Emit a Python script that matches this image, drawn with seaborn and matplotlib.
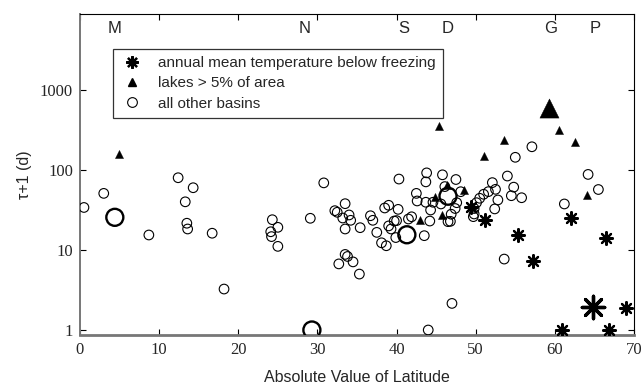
import matplotlib
matplotlib.use("Agg")
import matplotlib.pyplot as plt
import seaborn as sns
import pandas as pd
from matplotlib.lines import Line2D
from matplotlib.transforms import blended_transform_factory

# ---- data (absolute latitude, tau+1 in days) ----
other_lat = [0.5, 3.0, 8.7, 12.4, 14.3, 13.3, 13.5, 13.6, 16.7, 18.2, 24.3, 24.1, 24.2, 25.0, 25.0,
             29.1, 30.8, 33.5, 32.2, 32.5, 33.2, 34.0, 34.2, 33.5, 35.4, 36.7, 37.0, 37.5, 38.1,
             38.7, 38.5, 39.0, 39.0, 39.3, 39.7, 40.0, 39.9, 40.2, 40.3, 33.5, 33.8, 32.7, 34.5,
             35.3, 41.5, 41.9, 42.5, 42.6, 43.7, 43.8, 43.7, 44.3, 44.2, 43.5, 44.6, 45.6, 45.8,
             47.5, 46.1, 48.1, 47.6, 47.4, 46.9, 46.8, 46.5, 51.6, 51.0, 50.5, 50.1, 49.8, 49.8,
             49.7, 52.1, 52.5, 52.8, 52.4, 54.0, 54.8, 54.5, 55.8, 55.0, 57.1, 53.6, 47.0, 44.0,
             61.2, 64.2, 65.5]
other_tau = [34, 51, 15.4, 80, 60, 40, 21.6, 18.3, 16.2, 3.25, 23.9, 16.9, 14.7, 19.2, 11.1,
             24.9, 69, 37.9, 31, 29.6, 25.1, 27.4, 23.5, 18.3, 19, 26.8, 23.5, 16.6, 12.3,
             11.3, 33.5, 36.2, 20, 18.3, 23, 23.3, 14.3, 32.2, 77, 8.8, 8.3, 6.7, 7.1,
             5.0, 24.4, 26, 51, 41, 39.5, 92, 71, 31.6, 23, 15.1, 39.5, 37.6, 87,
             76, 62, 53.5, 39, 33, 28, 22.8, 22.6, 53.6, 49.7, 44.3, 39, 33, 28.2,
             26.1, 69.5, 57.3, 42.2, 32.6, 84, 61, 47.7, 45, 144, 195, 7.7, 2.15, 1.0,
             37.6, 88, 57]
lake_lat = [4.9, 45.3, 43.0, 44.9, 45.8, 46.4, 48.5, 51.0, 53.6, 60.5, 62.5, 64.0]
lake_tau = [158, 358, 23.5, 45.5, 27, 64, 56, 151, 240, 316, 222, 49]
cold_lat = [49.4, 51.2, 55.3, 57.2, 62.1, 66.5, 69.0, 60.9, 66.8]
cold_tau = [34.7, 23.7, 15.6, 7.2, 25, 14.3, 1.87, 1.0, 1.0]

# highlighted basins (large symbols) and their letters along the top
big_kind = ["other", "other", "other", "other", "lake", "cold"]
big_lat = [4.4, 29.3, 41.3, 46.5, 59.3, 64.8]
big_tau = [25.6, 1.0, 15.5, 47, 590, 1.96]
top_letters = ["M", "N", "S", "D", "G", "P"]
top_letter_lat = [4.4, 28.4, 40.9, 46.5, 59.5, 65.1]

legend_labels = ["annual mean temperature below freezing", "lakes > 5% of area", "all other basins"]
x_ticks = [0, 10, 20, 30, 40, 50, 60, 70]
y_ticks = [1, 10, 100, 1000]

# ---- figure ----
sns.set_style("ticks")
plt.rcParams["font.family"] = ["Liberation Sans", "DejaVu Sans"]

fig = plt.figure(figsize=(6.43, 3.90), dpi=100)
ax = fig.add_axes([80 / 643, 1 - 335 / 390, 554 / 643, 321 / 390])

STAR = (8, 2, 0)
df_o = pd.DataFrame({"lat": other_lat, "tau": other_tau})
df_l = pd.DataFrame({"lat": lake_lat, "tau": lake_tau})
df_c = pd.DataFrame({"lat": cold_lat, "tau": cold_tau})
df_b = pd.DataFrame({"lat": big_lat, "tau": big_tau, "kind": big_kind})

sns.scatterplot(data=df_o, x="lat", y="tau", marker="o", s=48, facecolor="none",
                edgecolor="black", linewidth=0.8, ax=ax, zorder=3)
sns.scatterplot(data=df_l, x="lat", y="tau", marker="^", s=34, color="black",
                edgecolor="black", linewidth=0.3, ax=ax, zorder=4)
sns.scatterplot(data=df_c, x="lat", y="tau", marker=STAR, s=85, color="black",
                linewidth=1.6, ax=ax, zorder=4)

bo = df_b[df_b.kind == "other"]
bl = df_b[df_b.kind == "lake"]
bc = df_b[df_b.kind == "cold"]
sns.scatterplot(data=bo, x="lat", y="tau", marker="o", s=150, facecolor="none",
                edgecolor="black", linewidth=1.7, ax=ax, zorder=5)
sns.scatterplot(data=bl, x="lat", y="tau", marker="^", s=190, color="black",
                edgecolor="black", linewidth=0.3, ax=ax, zorder=5)
sns.scatterplot(data=bc, x="lat", y="tau", marker=STAR, s=260, color="black",
                linewidth=2.4, ax=ax, zorder=5)

ax.set_yscale("log")
ax.set_xlim(0, 70)
ax.set_ylim(0.866, 8900)
ax.set_xticks(x_ticks)
ax.set_xticklabels([str(t) for t in x_ticks])
ax.set_yticks(y_ticks)
ax.set_yticklabels([str(t) for t in y_ticks])
ax.minorticks_off()
ax.yaxis.set_minor_locator(matplotlib.ticker.NullLocator())

ax.tick_params(direction="in", length=4.5, width=0.8, top=True, right=True,
               labeltop=False, labelright=False, color="black", pad=5)
for lab in ax.get_xticklabels() + ax.get_yticklabels():
    lab.set_fontfamily(["Liberation Serif", "DejaVu Serif"])
    lab.set_fontsize(12)

for side in ["top", "right"]:
    ax.spines[side].set_color("black")
    ax.spines[side].set_linewidth(0.8)
ax.spines["bottom"].set_color("#777777")
ax.spines["bottom"].set_linewidth(2.0)
ax.spines["left"].set_color("#777777")
ax.spines["left"].set_linewidth(1.4)

ax.set_xlabel("Absolute Value of Latitude", fontsize=11.5, labelpad=9)
ax.set_ylabel("\u03c4+1 (d)", fontsize=11.5, labelpad=6)

trans = blended_transform_factory(ax.transData, ax.transAxes)
for letter, xl in zip(top_letters, top_letter_lat):
    ax.text(xl, 0.955, letter, transform=trans, ha="center", va="center", fontsize=12)

handles = [
    Line2D([], [], marker=STAR, color="black", linestyle="none", markersize=9, markeredgewidth=1.6),
    Line2D([], [], marker="^", color="black", linestyle="none", markersize=6),
    Line2D([], [], marker="o", markerfacecolor="none", markeredgecolor="black",
           markeredgewidth=0.8, linestyle="none", markersize=7),
]
leg = ax.legend(handles, legend_labels, loc="upper left",
                bbox_to_anchor=((113 - 80) / 554, (335 - 49) / 321), borderaxespad=0,
                frameon=True, fancybox=False, edgecolor="black", fontsize=11,
                labelspacing=0.42, handletextpad=0.9, borderpad=0.45, handlelength=1.6)
leg.get_frame().set_linewidth(0.9)
leg.get_frame().set_facecolor("white")
leg.set_zorder(10)

fig.savefig("out.png", dpi=100)
